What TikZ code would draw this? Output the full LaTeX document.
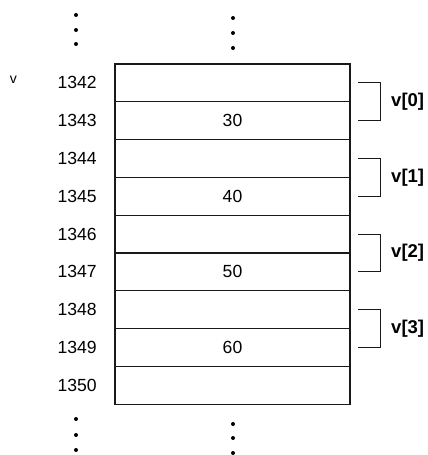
\documentclass[tikz,border=0pt]{standalone}
\usepackage{fontspec}
\setmainfont{Liberation Sans}
\usepackage{tikz}
\usetikzlibrary{positioning, calc}
\definecolor{inkgray}{rgb}{0.1,0.1,0.1}

\begin{document}
\begin{tikzpicture}[
    x=0.03cm, y=-0.03cm,
    cell/.style={
        rectangle,
        draw=inkgray,
        line width=0.9pt,
        minimum width=7.05cm,
        minimum height=1.134cm,
        inner sep=0pt,
        outer sep=0pt,
        font=\fontsize{15}{18}\selectfont
    },
    addr/.style={
        inner sep=0pt,
        font=\fontsize{15}{18}\selectfont
    },
    elem/.style={
        anchor=west,
        inner sep=0pt,
        font=\fontsize{15.8}{18}\selectfont\bfseries
    },
    brace/.style={
        line width=0.7pt,
        color=inkgray
    },
    dot/.style={
        fill=black
    }
]
\useasboundingbox (0,0) rectangle (428,455);

\node[cell] (c1342) at (232.5,82.9)  {};
\node[cell] (c1343) at (232.5,120.7) {30};
\node[cell] (c1344) at (232.5,158.5) {};
\node[cell] (c1345) at (232.5,196.3) {40};
\node[cell] (c1346) at (232.5,234.1) {};
\node[cell] (c1347) at (232.5,271.9) {50};
\node[cell] (c1348) at (232.5,309.7) {};
\node[cell] (c1349) at (232.5,347.5) {60};
\node[cell] (c1350) at (232.5,385.3) {};

\node[addr, left=0.54cm of c1342] (a1342) {1342};
\node[addr, left=0.54cm of c1343] (a1343) {1343};
\node[addr, left=0.54cm of c1344] (a1344) {1344};
\node[addr, left=0.54cm of c1345] (a1345) {1345};
\node[addr, left=0.54cm of c1346] (a1346) {1346};
\node[addr, left=0.54cm of c1347] (a1347) {1347};
\node[addr, left=0.54cm of c1348] (a1348) {1348};
\node[addr, left=0.54cm of c1349] (a1349) {1349};
\node[addr, left=0.54cm of c1350] (a1350) {1350};

\node[addr, font=\fontsize{12}{14}\selectfont] (vname) at (13.5,80) {v};

\draw[brace] ([xshift=0.24cm]c1342.east) -| ([xshift=0.9cm]c1343.east) -- ([xshift=0.24cm]c1343.east);
\draw[brace] ([xshift=0.24cm]c1344.east) -| ([xshift=0.9cm]c1345.east) -- ([xshift=0.24cm]c1345.east);
\draw[brace] ([xshift=0.24cm]c1346.east) -| ([xshift=0.9cm]c1347.east) -- ([xshift=0.24cm]c1347.east);
\draw[brace] ([xshift=0.24cm]c1348.east) -| ([xshift=0.9cm]c1349.east) -- ([xshift=0.24cm]c1349.east);

\node[elem] (v0) at ([xshift=1.23cm]c1342.south east) {v[0]};
\node[elem] (v1) at ([xshift=1.23cm]c1344.south east) {v[1]};
\node[elem] (v2) at ([xshift=1.23cm]c1346.south east) {v[2]};
\node[elem] (v3) at ([xshift=1.23cm]c1348.south east) {v[3]};

% continuation dots
\fill[dot] (76,15)   circle (2);
\fill[dot] (76,30)   circle (2);
\fill[dot] (76,44)   circle (2);
\fill[dot] (233,18)  circle (2);
\fill[dot] (233,33)  circle (2);
\fill[dot] (233,48)  circle (2);
\fill[dot] (76,419)  circle (2);
\fill[dot] (76,435)  circle (2);
\fill[dot] (76,450)  circle (2);
\fill[dot] (233,424) circle (2);
\fill[dot] (233,438) circle (2);
\fill[dot] (233,453) circle (2);

\end{tikzpicture}
\end{document}
